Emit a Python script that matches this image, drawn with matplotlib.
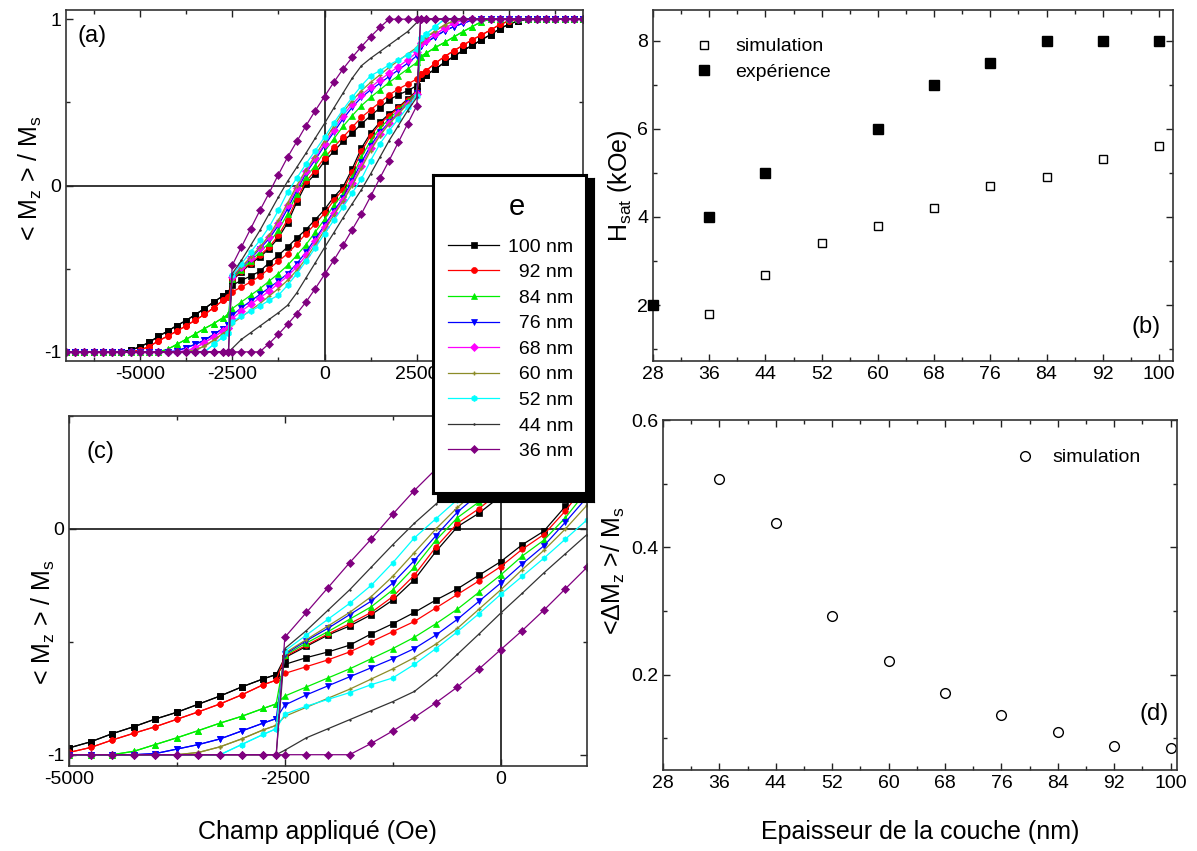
import matplotlib
matplotlib.use("Agg")
import matplotlib.pyplot as plt
import numpy as np
from matplotlib.ticker import MultipleLocator

plt.rcParams["font.family"] = ["Liberation Sans", "DejaVu Sans"]
plt.rcParams["mathtext.fontset"] = "custom"
plt.rcParams["mathtext.rm"] = "Liberation Sans"
plt.rcParams["axes.unicode_minus"] = False

# Increasing-field branch of each hysteresis loop, read at these fields (Oe).
# The first N_REV points (up to -2600 Oe) are the closed, reversible part; the
# decreasing-field branch is the point reflection (-H, -M) of this one.
H_GRID = [-7000, -6750, -6500, -6250, -6000, -5750, -5500, -5250, -5000, -4750,
          -4500, -4250, -4000, -3750, -3500, -3250, -3000, -2750, -2600,
          -2500, -2250, -2000, -1750, -1500, -1250, -1000, -750, -500, -250, 0,
          250, 500, 750, 1000, 1250, 1500, 1750, 2000, 2250, 2500]
N_REV = 19

M_100 = [-1, -1, -1, -1, -1, -1, -1, -0.99, -0.97, -0.943,
         -0.907, -0.876, -0.842, -0.812, -0.776, -0.74, -0.70, -0.664, -0.645,
         -0.60, -0.57, -0.545, -0.515, -0.465, -0.42, -0.37, -0.315, -0.265, -0.205, -0.145,
         -0.07, -0.01, 0.10, 0.225, 0.315, 0.38, 0.43, 0.47, 0.52, 0.57]
M_92 = [-1, -1, -1, -1, -1, -1, -1, -1, -0.99, -0.968,
        -0.935, -0.905, -0.876, -0.843, -0.81, -0.775, -0.735, -0.69, -0.67,
        -0.64, -0.61, -0.58, -0.545, -0.50, -0.455, -0.41, -0.35, -0.29, -0.23, -0.167,
        -0.09, -0.025, 0.08, 0.205, 0.30, 0.37, 0.42, 0.465, 0.515, 0.565]
M_84 = [-1, -1, -1, -1, -1, -1, -1, -1, -1, -1,
        -1, -0.985, -0.955, -0.925, -0.893, -0.86, -0.83, -0.795, -0.775,
        -0.74, -0.70, -0.66, -0.62, -0.575, -0.53, -0.48, -0.42, -0.355, -0.28, -0.204,
        -0.12, -0.05, 0.05, 0.17, 0.27, 0.345, 0.40, 0.455, 0.505, 0.56]
M_76 = [-1, -1, -1, -1, -1, -1, -1, -1, -1, -1,
        -1, -1, -0.995, -0.975, -0.955, -0.93, -0.895, -0.86, -0.84,
        -0.78, -0.735, -0.695, -0.655, -0.615, -0.575, -0.53, -0.47, -0.40, -0.32, -0.24,
        -0.155, -0.075, 0.03, 0.14, 0.24, 0.32, 0.38, 0.44, 0.495, 0.555]
M_68 = [-1, -1, -1, -1, -1, -1, -1, -1, -1, -1,
        -1, -1, -1, -0.995, -0.975, -0.945, -0.91, -0.875, -0.855,
        -0.80, -0.755, -0.715, -0.675, -0.635, -0.59, -0.545, -0.49, -0.42, -0.335, -0.25,
        -0.165, -0.085, 0.015, 0.12, 0.225, 0.31, 0.375, 0.435, 0.49, 0.55]
M_60 = [-1, -1, -1, -1, -1, -1, -1, -1, -1, -1,
        -1, -1, -1, -1, -0.99, -0.965, -0.93, -0.89, -0.87,
        -0.83, -0.79, -0.75, -0.71, -0.665, -0.62, -0.57, -0.51, -0.44, -0.355, -0.27,
        -0.18, -0.095, 0.0, 0.105, 0.21, 0.30, 0.37, 0.43, 0.49, 0.55]
M_52 = [-1, -1, -1, -1, -1, -1, -1, -1, -1, -1,
        -1, -1, -1, -1, -1, -1, -0.955, -0.91, -0.885,
        -0.82, -0.785, -0.755, -0.725, -0.69, -0.66, -0.60, -0.53, -0.455, -0.375, -0.29,
        -0.21, -0.13, -0.045, 0.04, 0.15, 0.25, 0.33, 0.40, 0.47, 0.54]
M_44 = [-1, -1, -1, -1, -1, -1, -1, -1, -1, -1,
        -1, -1, -1, -1, -1, -1, -1, -1, -1,
        -0.98, -0.925, -0.885, -0.845, -0.805, -0.765, -0.72, -0.645, -0.555, -0.465, -0.373,
        -0.285, -0.195, -0.11, -0.025, 0.07, 0.17, 0.27, 0.36, 0.45, 0.53]
M_36 = [-1, -1, -1, -1, -1, -1, -1, -1, -1, -1,
        -1, -1, -1, -1, -1, -1, -1, -1, -1,
        -1, -1, -1, -1, -0.95, -0.895, -0.835, -0.77, -0.70, -0.62, -0.535,
        -0.45, -0.36, -0.265, -0.17, -0.065, 0.045, 0.15, 0.26, 0.37, 0.48]

LABELS = ["100 nm", "\u200792 nm", "\u200784 nm", "\u200776 nm", "\u200768 nm",
          "\u200760 nm", "\u200752 nm", "\u200744 nm", "\u200736 nm"]
LOOPS = [M_100, M_92, M_84, M_76, M_68, M_60, M_52, M_44, M_36]
IN_PANEL_C = [True, True, True, True, False, True, True, True, True]

# colour, marker, marker size
STYLES = [("#000000", "s", 3.6),
          ("#ff0000", "o", 3.6),
          ("#00ee00", "^", 3.8),
          ("#0000ff", "v", 3.8),
          ("#ff00ff", "D", 3.2),
          ("#8c8c28", "+", 3.0),
          ("#00ffff", "h", 3.6),
          ("#333333", ".", 2.0),
          ("#800080", "D", 3.4)]

# panel (b): saturation field vs thickness
EP_SIM = [36, 44, 52, 60, 68, 76, 84, 92, 100]
HSAT_SIM = [1.80, 2.69, 3.40, 3.80, 4.21, 4.70, 4.90, 5.31, 5.61]
EP_EXP = [28, 36, 44, 60, 68, 76, 84, 92, 100]
HSAT_EXP = [2.0, 4.0, 5.0, 6.0, 7.0, 7.5, 8.0, 8.0, 8.0]

# panel (d): loop opening vs thickness
EP_DM = [36, 44, 52, 60, 68, 76, 84, 92, 100]
DELTA_M = [0.507, 0.438, 0.292, 0.221, 0.171, 0.136, 0.109, 0.088, 0.084]

EP_TICKS = [28, 36, 44, 52, 60, 68, 76, 84, 92, 100]

W, H = 1197, 851


def box(x0, y0, x1, y1):
    return [x0 / W, 1 - y1 / H, (x1 - x0) / W, (y1 - y0) / H]


def branches(m_low):
    h = np.array(H_GRID, dtype=float)
    m = np.array(m_low, dtype=float)
    h_up = np.concatenate([h, -h[:N_REV][::-1]])
    m_up = np.concatenate([m, -m[:N_REV][::-1]])
    return h_up, m_up, -h_up, -m_up


def style_axes(ax):
    ax.tick_params(which="both", direction="in", top=True, right=True,
                   labelsize=14, width=1, colors="#222222", labelcolor="black")
    ax.tick_params(which="major", length=5)
    ax.tick_params(which="minor", length=3)
    for s in ax.spines.values():
        s.set_linewidth(1.2)
        s.set_color("#333333")


fig = plt.figure(figsize=(W / 100, H / 100), dpi=100)
ax_a = fig.add_axes(box(66, 10, 583, 361))
ax_c = fig.add_axes(box(69, 416, 587, 766))
ax_b = fig.add_axes(box(653, 10, 1173, 361))
ax_d = fig.add_axes(box(663, 420, 1177, 770))

handles = []
for ax, big in ((ax_a, False), (ax_c, True)):
    ax.axhline(0, color="black", lw=1.1, zorder=1)
    ax.axvline(0, color="black", lw=1.1, zorder=1)
    for m_low, (col, mk, ms), show_c, lab in zip(LOOPS, STYLES, IN_PANEL_C, LABELS):
        if big and not show_c:
            continue
        h_up, m_up, h_dn, m_dn = branches(m_low)
        size = ms * 1.1 if big else ms * 1.2
        kw = dict(color=col, marker=mk, ms=size, lw=0.9, mew=1.0 if mk == "+" else 0.5,
                  mec=col, mfc=col, zorder=2)
        ln, = ax.plot(h_up, m_up, **kw)
        ax.plot(h_dn, m_dn, **kw)
        if not big:
            handles.append((ln, lab))
    ax.set_ylabel(r"< M$_\mathregular{z}$ > / M$_\mathregular{s}$", fontsize=18)
    ax.yaxis.set_major_locator(MultipleLocator(1))
    ax.yaxis.set_minor_locator(MultipleLocator(0.5))
    ax.xaxis.set_minor_locator(MultipleLocator(1250))
    style_axes(ax)

ax_a.set_xlim(-7000, 7000)
ax_a.set_ylim(-1.055, 1.055)
# the 5000 label sits under the thickness legend
ax_a.set_xticks([-5000, -2500, 0, 2500, 5000], ["-5000", "-2500", "0", "2500", ""])
ax_a.yaxis.set_label_coords(-0.042, 0.52)
ax_a.text(0.022, 0.925, "(a)", transform=ax_a.transAxes, fontsize=17, va="center")

ax_c.set_xlim(-5000, 1000)
ax_c.set_ylim(-1.05, 0.5)
ax_c.xaxis.set_major_locator(MultipleLocator(2500))
ax_c.yaxis.set_label_coords(-0.024, 0.41)
ax_c.set_xlabel("Champ appliqué (Oe)", fontsize=18)
ax_c.xaxis.set_label_coords(0.48, -0.155)
ax_c.text(0.033, 0.897, "(c)", transform=ax_c.transAxes, fontsize=17, va="center")

# panel (b)
ax_b.plot(EP_SIM, HSAT_SIM, ls="none", marker="s", ms=5.5, mfc="white", mec="black",
          mew=1.0, label="simulation", clip_on=False)
ax_b.plot(EP_EXP, HSAT_EXP, ls="none", marker="s", ms=7.5, mfc="black", mec="black",
          label="expérience", clip_on=False, zorder=3)
ax_b.set_xlim(28, 102)
ax_b.set_ylim(0.73, 8.7)
ax_b.set_xticks(EP_TICKS)
ax_b.xaxis.set_minor_locator(MultipleLocator(4))
ax_b.yaxis.set_major_locator(MultipleLocator(2))
ax_b.yaxis.set_minor_locator(MultipleLocator(1))
ax_b.set_ylabel(r"H$_\mathregular{sat}$ (kOe)", fontsize=18)
ax_b.yaxis.set_label_coords(-0.036, 0.5)
ax_b.legend(loc="upper left", frameon=False, fontsize=14, handlelength=1.0,
            handletextpad=1.1, labelspacing=0.4, borderaxespad=0.2,
            bbox_to_anchor=(0.057, 0.954))
ax_b.text(0.977, 0.097, "(b)", transform=ax_b.transAxes, fontsize=17,
          ha="right", va="center")
style_axes(ax_b)

# panel (d)
ax_d.plot(EP_DM, DELTA_M, ls="none", marker="o", ms=7, mfc="white", mec="black",
          mew=1.0, label="simulation", clip_on=False)
ax_d.set_xlim(28, 100.9)
ax_d.set_ylim(0.05, 0.6)
ax_d.set_xticks(EP_TICKS)
ax_d.xaxis.set_minor_locator(MultipleLocator(4))
ax_d.set_yticks([0.2, 0.4, 0.6])
ax_d.yaxis.set_minor_locator(MultipleLocator(0.1))
ax_d.set_ylabel(r"<$\Delta$M$_\mathregular{z}$ >/ M$_\mathregular{s}$", fontsize=18)
ax_d.yaxis.set_label_coords(-0.070, 0.57)
ax_d.set_xlabel("Epaisseur de la couche (nm)", fontsize=18)
ax_d.xaxis.set_label_coords(0.5, -0.143)
ax_d.legend(loc="upper right", frameon=False, fontsize=14, handlelength=1.0,
            handletextpad=0.9, borderaxespad=0.2, bbox_to_anchor=(0.952, 0.951))
ax_d.text(0.984, 0.16, "(d)", transform=ax_d.transAxes, fontsize=17,
          ha="right", va="center")
style_axes(ax_d)

# thickness legend box with its black drop shadow
ax_sh = fig.add_axes(box(437, 178, 594, 502))
ax_sh.set_facecolor("black")
ax_sh.set_xticks([])
ax_sh.set_yticks([])
ax_lg = fig.add_axes(box(433, 175, 586, 493))
ax_lg.set_facecolor("white")
ax_lg.set_xticks([])
ax_lg.set_yticks([])
for s in ax_lg.spines.values():
    s.set_linewidth(2.2)
    s.set_color("black")
ax_lg.text(0.55, 0.90, "e", transform=ax_lg.transAxes, fontsize=21,
           ha="center", va="center")
ax_lg.legend([h for h, _ in handles], [l for _, l in handles], loc="upper left",
             bbox_to_anchor=(0.1, 0.802), frameon=False, fontsize=14,
             handlelength=2.6, handletextpad=0.45, labelspacing=0.41,
             borderaxespad=0, borderpad=0, markerscale=1.0)

fig.savefig("out.png", dpi=100)
